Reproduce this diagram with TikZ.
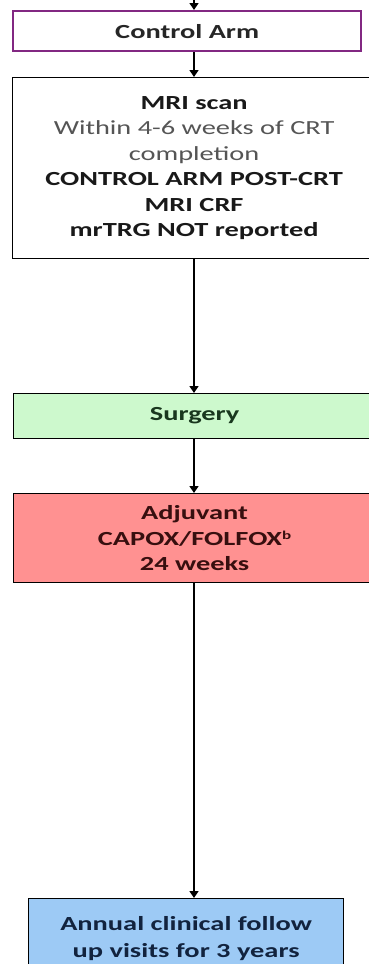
\documentclass[tikz,border=0pt]{standalone}
\usepackage{fontspec}
\setmainfont[FakeStretch=1.42]{Carlito}
\usetikzlibrary{arrows.meta}
\definecolor{armpurple}{RGB}{130,40,130}
\definecolor{surgfill}{RGB}{205,249,205}
\definecolor{surgtext}{RGB}{25,55,30}
\definecolor{adjfill}{RGB}{255,145,145}
\definecolor{adjtext}{RGB}{55,15,15}
\definecolor{fupfill}{RGB}{157,202,245}
\definecolor{fuptext}{RGB}{18,35,62}
\definecolor{softgray}{RGB}{85,85,85}
\tikzset{
  box/.style={draw=black, line width=1.2pt, rectangle, anchor=north west,
    align=center, inner sep=0pt,
    font=\fontsize{20}{25.5}\selectfont\bfseries},
  arr/.style={line width=1.4pt, -{Triangle[width=9pt,length=7pt]}},
}
\begin{document}
\begin{tikzpicture}[x=1pt,y=-1pt]
\useasboundingbox (0,0) rectangle (369,964);
\clip (0,0) rectangle (369,964);
\fill[white] (0,0) rectangle (369,964);

% boxes of the control pathway
\node[box, draw=armpurple, line width=2.4pt, minimum width=348pt, minimum height=40pt,
  text=black!85] (ctrl) at (12,10) {Control Arm};
\node[box, fill=white, minimum width=363pt, minimum height=181pt, text=black!90] (mri) at (12,77)
  {MRI scan\\
   {\mdseries\color{softgray}Within 4-6 weeks of CRT}\\
   {\mdseries\color{softgray}completion}\\
   CONTROL ARM POST-CRT\\
   MRI CRF\\
   mrTRG NOT reported};
\node[box, fill=surgfill, minimum width=362pt, minimum height=45pt, text=surgtext] (surg) at (13,393)
  {\raisebox{-1.5pt}{Surgery}};
\node[box, fill=adjfill, minimum width=362pt, minimum height=89pt, text=adjtext] (adj) at (13,493)
  {Adjuvant\\CAPOX/FOLFOX\raisebox{6pt}{\fontsize{12}{12}\selectfont b}\\24 weeks};
\node[box, fill=fupfill, minimum width=315pt, minimum height=80pt, text=fuptext,
  text depth=0pt] (fup) at (28,898)
  {\raisebox{21pt}{\begin{tabular}{@{}c@{}}Annual clinical follow\\[2pt]up visits for 3 years\end{tabular}}};

% connectors
\coordinate (entry) at (194,0);
\draw[arr] (entry) -- (entry |- ctrl.north);
\draw[arr] (entry |- ctrl.south) -- (entry |- mri.north);
\draw[arr] (entry |- mri.south) -- (entry |- surg.north);
\draw[arr] (entry |- surg.south) -- (entry |- adj.north);
\draw[arr] (entry |- adj.south) -- (entry |- fup.north);
\end{tikzpicture}
\end{document}
